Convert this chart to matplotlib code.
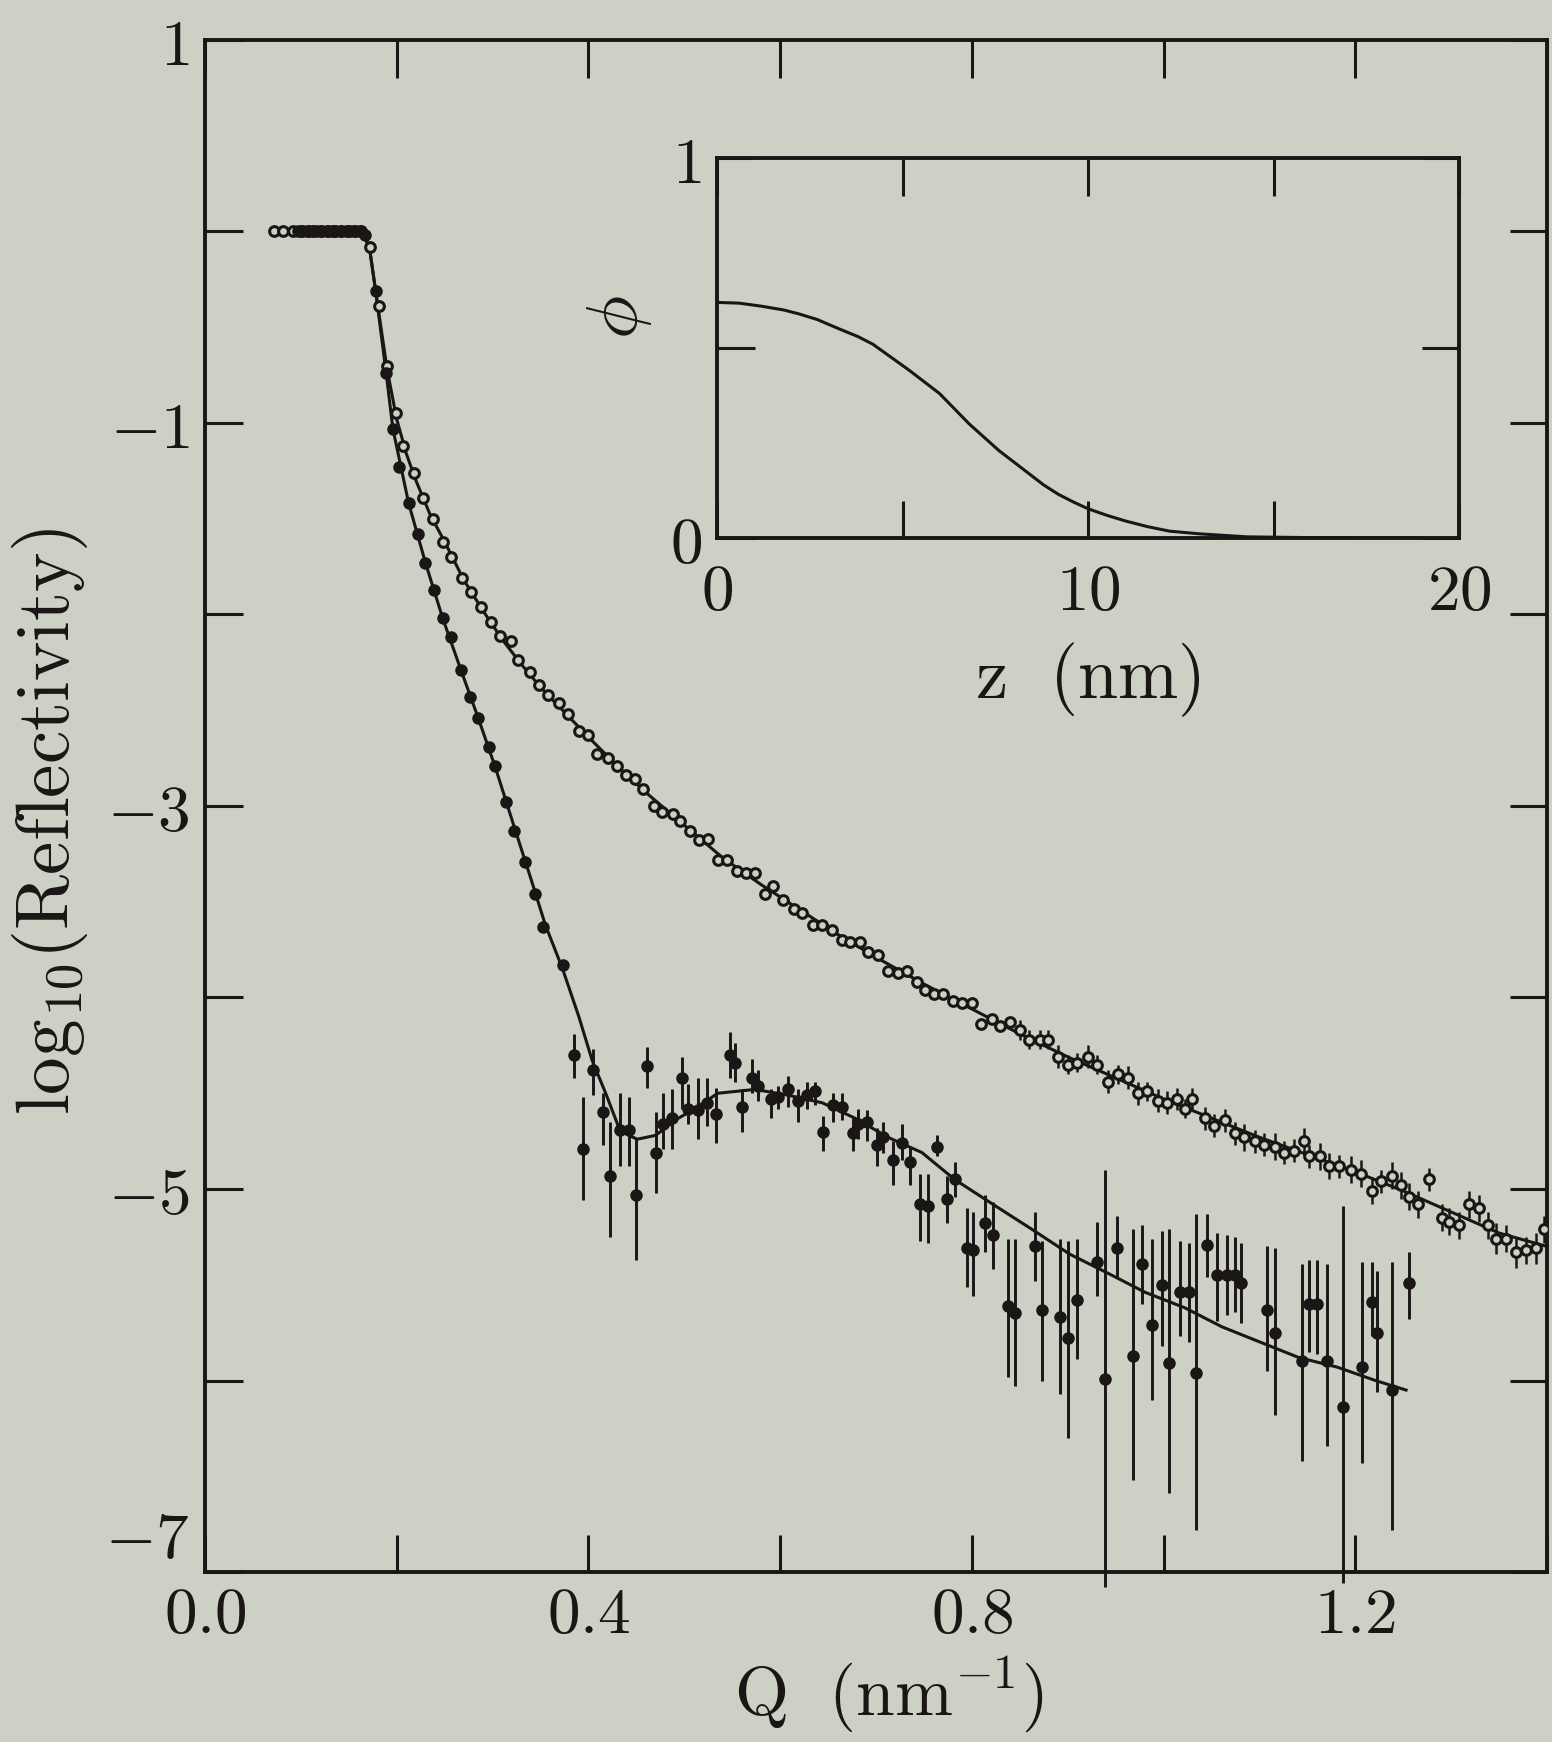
import numpy as np
import matplotlib
matplotlib.use("Agg")
import matplotlib.pyplot as plt

# ---------------- reflectivity data: open circles ----------------
open_q = [
    0.072, 0.081, 0.092, 0.100, 0.107, 0.114, 0.121, 0.128, 0.135, 0.142,
    0.149, 0.156, 0.163, 0.172, 0.181, 0.190, 0.199, 0.207, 0.218, 0.227,
    0.238, 0.248, 0.257, 0.268, 0.277, 0.288, 0.298, 0.308, 0.319, 0.327,
    0.339, 0.348, 0.358, 0.369, 0.379, 0.390, 0.400, 0.409, 0.420, 0.430,
    0.439, 0.449, 0.457, 0.468, 0.477, 0.488, 0.496, 0.506, 0.515, 0.525,
    0.535, 0.545, 0.555, 0.564, 0.574, 0.584, 0.593, 0.603, 0.614, 0.623,
    0.634, 0.644, 0.654, 0.665, 0.673, 0.683, 0.692, 0.702, 0.713, 0.723,
    0.732, 0.743, 0.751, 0.761, 0.770, 0.780, 0.790, 0.800, 0.810, 0.821,
    0.829, 0.840, 0.850, 0.860, 0.871, 0.879, 0.890, 0.900, 0.910, 0.921,
    0.931, 0.942, 0.952, 0.963, 0.973, 0.983, 0.994, 1.004, 1.014, 1.022,
    1.030, 1.043, 1.053, 1.064, 1.074, 1.084, 1.095, 1.105, 1.116, 1.126,
    1.136, 1.147, 1.152, 1.163, 1.173, 1.183, 1.196, 1.206, 1.217, 1.227,
    1.238, 1.248, 1.256, 1.265, 1.277, 1.290, 1.298, 1.308, 1.319, 1.329,
    1.338, 1.347, 1.357, 1.368, 1.378, 1.389, 1.397,
]
open_l = [
    0.0, 0.0, 0.0, 0.0, 0.0, 0.0, 0.0, 0.0, 0.0, 0.0,
    0.0, 0.0, 0.0, -0.08, -0.39, -0.70, -0.95, -1.12, -1.26, -1.39,
    -1.50, -1.62, -1.70, -1.81, -1.88, -1.96, -2.04, -2.11, -2.14, -2.24,
    -2.30, -2.37, -2.42, -2.46, -2.52, -2.61, -2.63, -2.73, -2.75, -2.79,
    -2.84, -2.86, -2.91, -3.00, -3.03, -3.04, -3.08, -3.13, -3.18, -3.17,
    -3.28, -3.28, -3.34, -3.35, -3.35, -3.46, -3.42, -3.49, -3.54, -3.56,
    -3.62, -3.62, -3.65, -3.70, -3.71, -3.71, -3.76, -3.78, -3.86, -3.87,
    -3.86, -3.92, -3.96, -3.98, -3.98, -4.02, -4.03, -4.03, -4.14, -4.11,
    -4.15, -4.13, -4.17, -4.22, -4.22, -4.22, -4.31, -4.35, -4.34, -4.31,
    -4.35, -4.44, -4.40, -4.42, -4.50, -4.49, -4.54, -4.55, -4.53, -4.58,
    -4.53, -4.63, -4.67, -4.64, -4.71, -4.73, -4.75, -4.77, -4.78, -4.81,
    -4.80, -4.75, -4.83, -4.83, -4.88, -4.88, -4.90, -4.92, -5.01, -4.96,
    -4.93, -4.98, -5.04, -5.08, -4.95, -5.15, -5.17, -5.19, -5.08, -5.10,
    -5.19, -5.26, -5.26, -5.33, -5.32, -5.31, -5.21,
]
# error bars on the high-Q end of the open-circle series
open_tail_err = [
    0.05, 0.05, 0.05, 0.05, 0.06, 0.05, 0.05, 0.06, 0.05, 0.06,
    0.05, 0.06, 0.06, 0.05, 0.06, 0.06, 0.06, 0.05, 0.06, 0.06,
    0.06, 0.06, 0.06, 0.07, 0.06, 0.06, 0.07, 0.06, 0.06, 0.07,
    0.06, 0.07, 0.07, 0.06, 0.07, 0.07, 0.07, 0.06, 0.07, 0.07,
    0.07, 0.07, 0.06, 0.07, 0.07, 0.07, 0.07, 0.07, 0.07, 0.08,
    0.07, 0.08, 0.07, 0.08, 0.07,
]
open_fit_q = [0.07, 0.165, 0.172, 0.180, 0.190, 0.200, 0.210, 0.220, 0.235, 0.250,
              0.270, 0.290, 0.310, 0.330, 0.350, 0.375, 0.400, 0.430, 0.460, 0.500,
              0.540, 0.580, 0.620, 0.660, 0.700, 0.750, 0.800, 0.850, 0.900, 0.950,
              1.000, 1.050, 1.100, 1.150, 1.200, 1.250, 1.300, 1.350, 1.400]
open_fit_l = [0.0, 0.0, -0.10, -0.38, -0.72, -0.98, -1.16, -1.30, -1.48, -1.62,
              -1.82, -1.98, -2.13, -2.26, -2.38, -2.51, -2.64, -2.79, -2.93, -3.10,
              -3.27, -3.41, -3.54, -3.67, -3.79, -3.93, -4.06, -4.19, -4.31, -4.42,
              -4.53, -4.63, -4.73, -4.82, -4.91, -5.01, -5.12, -5.23, -5.30]

# ---------------- reflectivity data: filled circles ----------------
drop_q = [0.097, 0.102, 0.107, 0.112, 0.117, 0.122, 0.127, 0.132, 0.137, 0.142,
          0.147, 0.152, 0.157, 0.162, 0.167,
          0.178, 0.189, 0.196, 0.202, 0.2125, 0.222, 0.230, 0.2385, 0.248, 0.257,
          0.267, 0.276, 0.285, 0.296, 0.303, 0.3135, 0.322, 0.334, 0.344, 0.353,
          0.373]
drop_l = [0.0, 0.0, 0.0, 0.0, 0.0, 0.0, 0.0, 0.0, 0.0, 0.0,
          0.0, 0.0, 0.0, 0.0, -0.02,
          -0.31, -0.74, -1.03, -1.23, -1.42, -1.58, -1.73, -1.87, -2.02, -2.12,
          -2.29, -2.43, -2.54, -2.69, -2.79, -2.98, -3.13, -3.29, -3.46, -3.63,
          -3.83]

dip_q = [0.385, 0.394, 0.405, 0.415, 0.423, 0.433, 0.442, 0.450, 0.461, 0.470,
         0.478, 0.4875, 0.498, 0.504, 0.5146, 0.524, 0.533, 0.548, 0.553, 0.560,
         0.571, 0.577, 0.590, 0.598, 0.608, 0.619, 0.628, 0.636, 0.645, 0.655,
         0.665, 0.676, 0.681, 0.691, 0.701, 0.707, 0.718, 0.727, 0.735, 0.746,
         0.754, 0.764, 0.774, 0.782, 0.795, 0.801, 0.814, 0.822, 0.8375, 0.845,
         0.866, 0.873, 0.892, 0.900, 0.910, 0.931, 0.9385, 0.951, 0.968, 0.977,
         0.9875, 0.998, 1.006, 1.017, 1.027, 1.034, 1.045, 1.056, 1.066, 1.074,
         1.081, 1.108, 1.116, 1.144, 1.152, 1.160, 1.170, 1.1875, 1.207, 1.217,
         1.223, 1.2385, 1.256]
dip_l = [-4.30, -4.79, -4.38, -4.60, -4.93, -4.69, -4.69, -5.03, -4.36, -4.81,
         -4.66, -4.63, -4.42, -4.58, -4.59, -4.55, -4.61, -4.30, -4.34, -4.57,
         -4.42, -4.46, -4.53, -4.52, -4.48, -4.54, -4.51, -4.49, -4.70, -4.56,
         -4.57, -4.71, -4.66, -4.65, -4.77, -4.73, -4.85, -4.76, -4.86, -5.08,
         -5.09, -4.78, -5.05, -4.95, -5.31, -5.32, -5.18, -5.24, -5.61, -5.65,
         -5.30, -5.63, -5.67, -5.78, -5.58, -5.38, -5.99, -5.31, -5.87, -5.39,
         -5.71, -5.50, -5.91, -5.54, -5.54, -5.96, -5.29, -5.45, -5.45, -5.45,
         -5.49, -5.63, -5.75, -5.90, -5.60, -5.60, -5.90, -6.14, -5.93, -5.59,
         -5.75, -6.05, -5.49]
dip_top = [-4.19, -4.52, -4.27, -4.50, -4.65, -4.50, -4.52, -4.74, -4.26, -4.60,
           -4.50, -4.48, -4.31, -4.45, -4.42, -4.42, -4.47, -4.18, -4.24, -4.48,
           -4.32, -4.38, -4.48, -4.46, -4.41, -4.48, -4.44, -4.44, -4.62, -4.50,
           -4.50, -4.63, -4.58, -4.59, -4.68, -4.65, -4.75, -4.66, -4.78, -4.92,
           -4.92, -4.72, -4.93, -4.86, -5.10, -5.12, -5.03, -5.07, -5.26, -5.26,
           -5.12, -5.27, -5.26, -5.27, -5.26, -5.17, -4.90, -5.14, -5.21, -5.19,
           -5.26, -5.22, -5.21, -5.27, -5.28, -5.13, -5.13, -5.23, -5.24, -5.25,
           -5.28, -5.30, -5.31, -5.39, -5.37, -5.37, -5.39, -5.09, -5.38, -5.38,
           -5.43, -5.38, -5.33]
dip_bot = [-4.42, -5.06, -4.51, -4.77, -5.25, -4.88, -4.88, -5.37, -4.47, -5.02,
           -4.79, -4.79, -4.58, -4.66, -4.74, -4.67, -4.76, -4.42, -4.44, -4.70,
           -4.50, -4.54, -4.63, -4.58, -4.57, -4.65, -4.58, -4.56, -4.80, -4.65,
           -4.64, -4.80, -4.74, -4.75, -4.88, -4.81, -4.98, -4.85, -4.98, -5.27,
           -5.28, -4.83, -5.18, -5.04, -5.51, -5.56, -5.33, -5.42, -5.98, -6.03,
           -5.48, -6.00, -6.07, -6.30, -5.89, -5.56, -7.08, -5.46, -6.52, -5.60,
           -6.10, -5.82, -6.59, -5.77, -5.80, -6.78, -5.46, -5.69, -5.66, -5.64,
           -5.70, -5.95, -6.18, -6.42, -5.85, -5.86, -6.34, -7.06, -6.43, -5.77,
           -6.06, -6.78, -5.68]
fill_fit_q = [0.07, 0.165, 0.172, 0.178, 0.189, 0.196, 0.2125, 0.230, 0.248, 0.267,
              0.285, 0.303, 0.322, 0.340, 0.355, 0.373, 0.390, 0.404, 0.418, 0.431,
              0.442, 0.451, 0.470, 0.494, 0.508, 0.535, 0.574, 0.608, 0.644, 0.678,
              0.7125, 0.748, 0.782, 0.822, 0.8625, 0.902, 0.942, 0.981, 1.022, 1.061,
              1.101, 1.141, 1.181, 1.221, 1.253]
fill_fit_l = [0.0, 0.0, -0.10, -0.31, -0.74, -1.03, -1.42, -1.73, -2.02, -2.29,
              -2.54, -2.80, -3.10, -3.38, -3.62, -3.85, -4.10, -4.33, -4.50, -4.67,
              -4.72, -4.74, -4.72, -4.63, -4.59, -4.50, -4.48, -4.51, -4.55, -4.63,
              -4.73, -4.81, -4.95, -5.08, -5.21, -5.34, -5.44, -5.54, -5.62, -5.72,
              -5.80, -5.88, -5.93, -6.00, -6.05]

# ---------------- inset: volume-fraction profile ----------------
inset_z = [0, 0.6, 1.2, 1.8, 2.2, 2.7, 3.3, 3.8, 4.2, 4.7, 5.2, 5.6, 6.0, 6.4, 6.8, 7.2,
           7.6, 8.0, 8.4, 8.8, 9.2, 9.6, 10.0, 10.5, 11.0, 11.6, 12.2, 13.0, 14.3,
           16.0, 18.0, 20.0]
inset_phi = [0.62, 0.618, 0.61, 0.60, 0.59, 0.575, 0.55, 0.53, 0.51, 0.475, 0.44, 0.41,
             0.38, 0.34, 0.30, 0.265, 0.23, 0.20, 0.17, 0.14, 0.115, 0.095, 0.077,
             0.06, 0.045, 0.03, 0.018, 0.011, 0.003, 0.001, 0.0, 0.0]

# ---------------- ticks ----------------
q_ticks = [0.0, 0.2, 0.4, 0.6, 0.8, 1.0, 1.2, 1.4]
q_tick_labels = ["$0.0$", "", "$0.4$", "", "$0.8$", "", "$1.2$", ""]
l_ticks = [-7, -6, -5, -4, -3, -2, -1, 0, 1]
l_tick_labels = ["$-7$", "", "$-5$", "", "$-3$", "", "$-1$", "", "$1$"]
z_ticks = [0, 5, 10, 15, 20]
z_tick_labels = ["$0$", "", "$10$", "", "$20$"]
phi_ticks = [0, 0.5, 1]
phi_tick_labels = ["$0$", "", "$1$"]

BG = "#cdd0c4"
INK = "#1b1616"

plt.rcParams["mathtext.fontset"] = "cm"
plt.rcParams["font.family"] = ["DejaVu Serif"]

W, H = 1552, 1742
fig = plt.figure(figsize=(W / 100, H / 100), dpi=100)
fig.patch.set_facecolor(BG)

ax = fig.add_axes([205 / W, 1 - 1572 / H, 1342 / W, 1532 / H])
ax.set_facecolor(BG)

# fitted curves
ax.plot(open_fit_q, open_fit_l, color=INK, lw=2.2, zorder=2)
ax.plot(fill_fit_q, fill_fit_l, color=INK, lw=2.2, zorder=2)

# open-circle data
open_err = np.zeros(len(open_q))
open_err[-len(open_tail_err):] = open_tail_err
ax.errorbar(open_q, open_l, yerr=open_err, fmt="o", ms=7.0, mfc=BG, mec=INK,
            mew=2.2, ecolor=INK, elinewidth=1.8, capsize=0, zorder=4)

# filled-circle data
ax.plot(drop_q, drop_l, "o", ms=8.0, color=INK, zorder=5)
dq = np.array(dip_q)
dl = np.array(dip_l)
lower = dl - np.array(dip_bot)
upper = np.array(dip_top) - dl
eb = ax.errorbar(dq, dl, yerr=[lower, upper], fmt="o", ms=8.0, color=INK,
                 ecolor=INK, elinewidth=2.1, capsize=0, zorder=5)
for coll in eb.lines[2]:
    coll.set_clip_on(False)

ax.set_xlim(0, 1.4)
ax.set_ylim(-7, 1)
ax.set_xticks(q_ticks)
ax.set_xticklabels(q_tick_labels)
ax.set_yticks(l_ticks)
ax.set_yticklabels(l_tick_labels)
ax.tick_params(which="both", direction="in", length=27, width=2.2, colors=INK,
               top=True, right=True, labelsize=47)
ax.tick_params(axis="x", pad=8)
ax.tick_params(axis="y", pad=11)
# the lowest y label sits just above the corner so it clears the 0.0 label
ax.get_yticklabels()[0].set_verticalalignment("bottom")
for s in ax.spines.values():
    s.set_linewidth(2.8)
    s.set_color(INK)

ax.set_ylabel(r"$\mathrm{log_{10}(Reflectivity)}$", fontsize=54, color=INK)
ax.yaxis.set_label_coords(-0.086, 0.49)
ax.set_xlabel(r"$\mathrm{Q\ \ (nm^{-1})}$", fontsize=50, color=INK)
ax.xaxis.set_label_coords(0.51, -0.054)

# inset
ins = fig.add_axes([717 / W, 1 - 538 / H, 742 / W, 380 / H])
ins.set_facecolor(BG)
ins.plot(inset_z, inset_phi, color=INK, lw=2.2)
ins.set_xlim(0, 20)
ins.set_ylim(0, 1)
ins.set_xticks(z_ticks)
ins.set_xticklabels(z_tick_labels)
ins.set_yticks(phi_ticks)
ins.set_yticklabels(phi_tick_labels)
ins.tick_params(direction="in", length=27, width=2.2, colors=INK,
                top=True, right=True, labelsize=47)
ins.tick_params(axis="x", pad=16)
ins.tick_params(axis="y", pad=11)
for s in ins.spines.values():
    s.set_linewidth(2.8)
    s.set_color(INK)
ins.set_xlabel(r"$\mathrm{z\ \ (nm)}$", fontsize=52, color=INK)
ins.xaxis.set_label_coords(0.5, -0.27)
ins.set_ylabel(r"$\phi$", fontsize=52, color=INK)
ins.yaxis.set_label_coords(-0.085, 0.58)

fig.savefig("out.png", dpi=100, facecolor=BG)
